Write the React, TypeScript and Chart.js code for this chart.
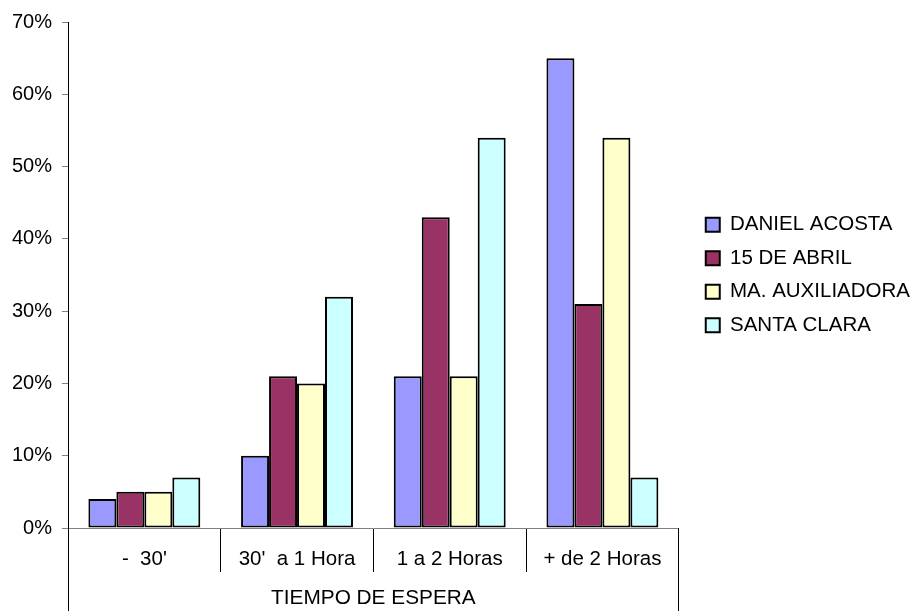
import React, { useEffect, useRef } from 'react';
import { Chart, registerables } from 'chart.js';

Chart.register(...registerables);

const categories = ["-  30'", "30'  a 1 Hora", "1 a 2 Horas", "+ de 2 Horas"];
const seriesNames = ['DANIEL ACOSTA', '15 DE ABRIL', 'MA. AUXILIADORA', 'SANTA CLARA'];
const danielAcosta = [4, 10, 21, 65];
const quinceDeAbril = [5, 21, 43, 31];
const maAuxiliadora = [5, 20, 21, 54];
const santaClara = [7, 32, 54, 7];
const seriesColors = ['#9999FF', '#993366', '#FFFFCC', '#CCFFFF'];
const yTickValues = [0, 10, 20, 30, 40, 50, 60, 70];
const xAxisTitle = 'TIEMPO DE ESPERA';

const FONT = "'Liberation Sans', Arial, sans-serif";
const PLOT_RIGHT = 679;
const LEGEND_SHIFT = 14;

const extendLines = {
  id: 'extendLines',
  afterLayout(chart: any) {
    if (chart.legend) {
      chart.legend.left += LEGEND_SHIFT;
      chart.legend.right += LEGEND_SHIFT;
    }
  },
  afterDraw(chart: any) {
    const { ctx, chartArea, height } = chart;
    ctx.save();
    ctx.strokeStyle = '#000';
    ctx.lineWidth = 1;
    [chartArea.left, chartArea.right].forEach((x: number) => {
      const px = Math.round(x - 0.5) + 0.5;
      ctx.beginPath();
      ctx.moveTo(px, chartArea.bottom);
      ctx.lineTo(px, height);
      ctx.stroke();
    });
    ctx.restore();
  },
};

export default function App() {
  const ref = useRef<HTMLCanvasElement>(null);

  useEffect(() => {
    document.body.style.margin = '0';
    const canvas = ref.current!;
    const data = [danielAcosta, quinceDeAbril, maAuxiliadora, santaClara];
    const chart = new Chart(canvas, {
      type: 'bar',
      data: {
        labels: categories,
        datasets: data.map((vals, i) => ({
          label: seriesNames[i],
          data: vals,
          backgroundColor: seriesColors[i],
          borderColor: '#000',
          borderWidth: 2,
          borderSkipped: false,
          categoryPercentage: 0.733,
          barPercentage: 1,
        })),
      },
      options: {
        animation: false,
        responsive: false,
        layout: { padding: { top: 19, left: 0, right: 10, bottom: 0 } },
        font: { family: FONT, size: 20 },
        color: '#000',
        plugins: {
          tooltip: { enabled: false },
          legend: {
            position: 'right',
            fullSize: false,
            labels: {
              boxWidth: 14,
              boxHeight: 14,
              padding: 13,
              color: '#000',
              font: { family: FONT, size: 20.5 },
            },
          },
        },
        scales: {
          x: {
            grid: {
              offset: true,
              drawOnChartArea: false,
              tickLength: 44,
              color: '#000',
              lineWidth: 1,
            },
            border: { display: true, color: '#808080', width: 1 },
            ticks: {
              color: '#000',
              font: { family: FONT, size: 20.5 },
              padding: -25,
              maxRotation: 0,
              autoSkip: false,
            },
            title: {
              display: true,
              text: xAxisTitle,
              color: '#000',
              font: { family: FONT, size: 20.8 },
              padding: { top: 0, bottom: 0 },
            },
            afterFit: (s: any) => {
              s.height = 83;
            },
          },
          y: {
            min: 0,
            max: 70,
            grid: {
              drawOnChartArea: false,
              tickLength: 6,
              color: '#808080',
              lineWidth: 1,
            },
            border: { display: true, color: '#000', width: 1 },
            ticks: {
              color: '#000',
              font: { family: FONT, size: 20 },
              padding: 10,
              callback: (v: any) => v + '%',
            },
            afterBuildTicks: (s: any) => {
              s.ticks = yTickValues.map((v) => ({ value: v }));
            },
            afterFit: (s: any) => {
              s.width = 68;
            },
          },
        },
      } as any,
      plugins: [extendLines],
    });
    const diff = PLOT_RIGHT - chart.chartArea.right;
    if (Math.abs(diff) > 0.5) {
      (chart.options as any).layout.padding.right = Math.max(0, 10 - diff);
      chart.update();
    }
    return () => chart.destroy();
  }, []);

  return (
    <div style={{ width: 915, height: 611 }}>
      <canvas ref={ref} width={915} height={611} />
    </div>
  );
}
